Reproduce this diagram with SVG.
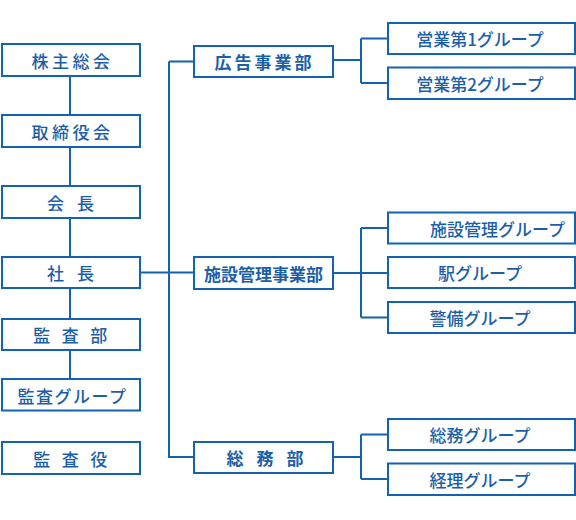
<svg xmlns="http://www.w3.org/2000/svg" width="576" height="520" viewBox="0 0 576 520">
<style>
.box{fill:#fff;stroke:#1363b0;stroke-width:2}
.ln{fill:none;stroke:#1363b0;stroke-width:2}
text{font-family:"Noto Sans CJK JP","Noto Sans",sans-serif;font-size:17px;fill:#1b5fa8;text-anchor:middle;dominant-baseline:central}
.l{font-weight:500}
.m{font-weight:700}
.r{font-weight:500}
</style>
<rect width="576" height="520" fill="#fff"/>
<g id="connectors">
<path class="ln" d="M70 76V379"/>
<path class="ln" d="M140 272.5H194M169 61.5V457H194M169 61.5H194"/>
<path class="ln" d="M333 60H361M361 38.5V83M361 38.5H388M361 83H388"/>
<path class="ln" d="M333 273H388M361 228V317.5M361 228H388M361 317.5H388"/>
<path class="ln" d="M333 457H361M361 434.5V479M361 434.5H388M361 479H388"/>
</g>
<g id="kabunushi"><rect class="box" x="2" y="44" width="138" height="32"/><text class="l" x="72.5" y="60" letter-spacing="3.5">株主総会</text></g>
<g id="torishimari"><rect class="box" x="2" y="115" width="138" height="32"/><text class="l" x="72.5" y="131" letter-spacing="3.5">取締役会</text></g>
<g id="kaicho"><rect class="box" x="2" y="186" width="138" height="32"/><text class="l" x="77" y="202" letter-spacing="13">会長</text></g>
<g id="shacho"><rect class="box" x="2" y="257" width="138" height="31"/><text class="l" x="77" y="272.5" letter-spacing="13">社長</text></g>
<g id="kansabu"><rect class="box" x="2" y="319" width="138" height="31"/><text class="l" x="76" y="334.5" letter-spacing="11.5">監査部</text></g>
<g id="kansagroup"><rect class="box" x="2" y="379" width="138" height="31.5"/><text class="l" x="72.5" y="395" letter-spacing="1.5">監査グループ</text></g>
<g id="kansayaku"><rect class="box" x="2" y="442" width="138" height="32"/><text class="l" x="76" y="458" letter-spacing="11.5">監査役</text></g>
<g id="kokoku"><rect class="box" x="194" y="46" width="139" height="31"/><text class="m" x="264.5" y="61.5" letter-spacing="3">広告事業部</text></g>
<g id="shisetsu"><rect class="box" x="194" y="257" width="139" height="32"/><text class="m" x="263.5" y="273">施設管理事業部</text></g>
<g id="somu"><rect class="box" x="194" y="442" width="139" height="31"/><text class="m" x="271.5" y="457.5" letter-spacing="13">総務部</text></g>
<g id="eigyo1"><rect class="box" x="388" y="23" width="187" height="31"/><text class="r" x="480" y="38.5">営業第1グループ</text></g>
<g id="eigyo2"><rect class="box" x="388" y="67.5" width="187" height="31.5"/><text class="r" x="480" y="83">営業第2グループ</text></g>
<g id="shisetsugroup"><rect class="box" x="388" y="212.5" width="187" height="31"/><text class="r" x="497.5" y="228">施設管理グループ</text></g>
<g id="eki"><rect class="box" x="388" y="257" width="187" height="31"/><text class="r" x="480" y="272.5">駅グループ</text></g>
<g id="keibi"><rect class="box" x="388" y="302" width="187" height="31"/><text class="r" x="480" y="317.5">警備グループ</text></g>
<g id="somugroup"><rect class="box" x="388" y="419" width="187" height="31"/><text class="r" x="480" y="434.5">総務グループ</text></g>
<g id="keiri"><rect class="box" x="388" y="463.5" width="187" height="31.5"/><text class="r" x="480" y="479">経理グループ</text></g>
</svg>
